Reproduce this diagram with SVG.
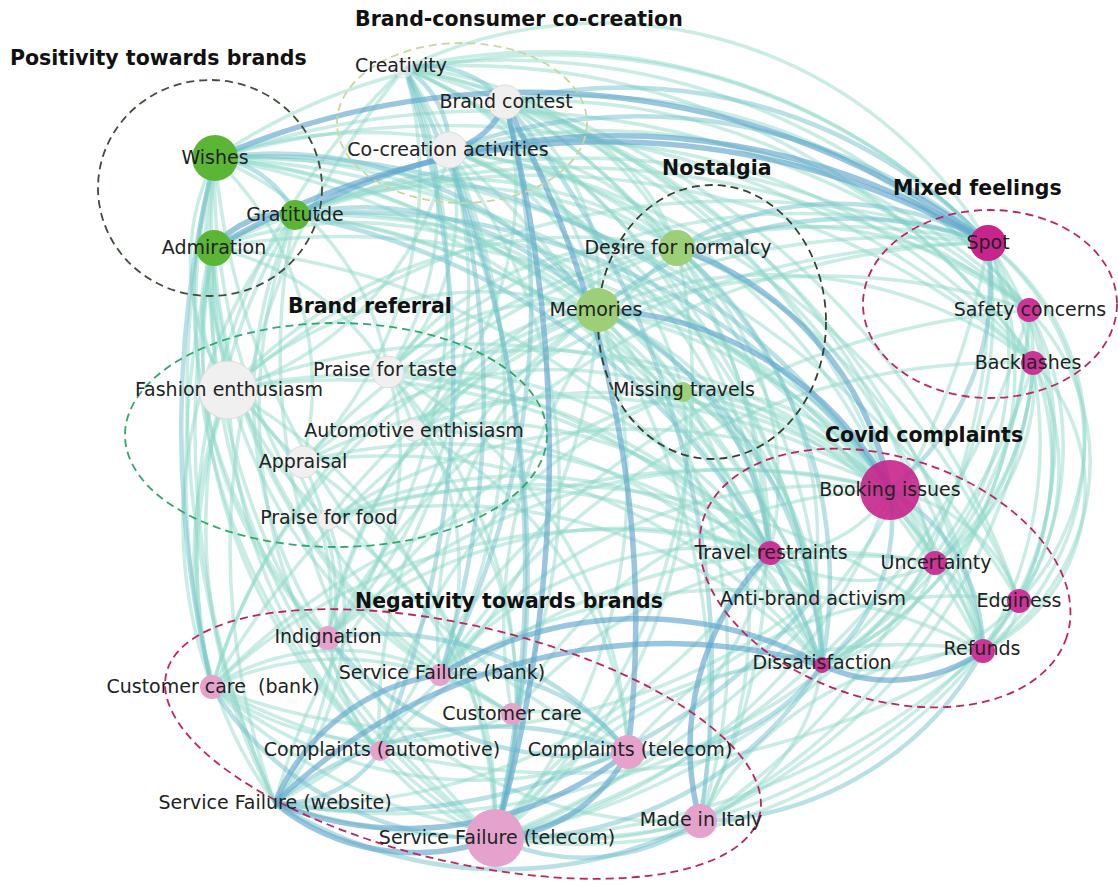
<svg xmlns="http://www.w3.org/2000/svg" width="1118" height="886" viewBox="0 0 1118 886">
<style>
.e{fill:none;stroke:#8fd8c9;stroke-width:3.5;stroke-opacity:.48}
.m{fill:none;stroke:#74c2cc;stroke-width:4.5;stroke-opacity:.5}
.t{fill:none;stroke:#63a7cc;stroke-width:5.5;stroke-opacity:.65}
.cl{fill:none;stroke-width:1.8;stroke-dasharray:8 5}
.lbl{font-family:"DejaVu Sans",sans-serif;font-size:19px;fill:#222;text-anchor:middle}
.ttl{font-family:"DejaVu Sans",sans-serif;font-size:20.5px;font-weight:bold;fill:#111}
.green{fill:#5cb636}
.lgreen{fill:#9ccf77}
.gray{fill:#f0f0f0;stroke:#dcdcdc;stroke-width:1}
.mag{fill:#c8248c}
.mag2{fill:#cc3597}
.pink{fill:#e4a2cd}
</style>
<rect width="1118" height="886" fill="#fff"/>
<g id="connectors">
<!-- light links -->
<path class="e" d="M215 158A828 828 0 0 1 1029 310"/>
<path class="e" d="M215 158A844 844 0 0 1 1034 363"/>
<path class="e" d="M405 68A609 609 0 0 1 988 243"/>
<path class="e" d="M405 68A450 450 0 0 1 988 243"/>
<path class="e" d="M405 68A669 669 0 0 1 1029 310"/>
<path class="e" d="M405 68A695 695 0 0 1 1034 363"/>
<path class="e" d="M449 150A557 557 0 0 1 890 490"/>
<path class="e" d="M505 102A590 590 0 0 1 1034 363"/>
<path class="e" d="M215 158A471 471 0 0 1 677 248"/>
<path class="e" d="M405 68A326 326 0 0 1 677 248"/>
<path class="e" d="M505 102A226 226 0 0 1 677 248"/>
<path class="e" d="M405 68A813 813 0 0 1 1019 601"/>
<path class="e" d="M405 68A821 821 0 0 1 983 651"/>
<path class="e" d="M215 158A918 918 0 0 1 1019 601"/>
<path class="e" d="M215 158A913 913 0 0 1 983 651"/>
<path class="e" d="M215 158A600 600 0 0 1 988 243"/>
<path class="e" d="M505 102A630 630 0 0 1 935 563"/>
<path class="e" d="M449 150A727 727 0 0 1 1019 601"/>
<path class="e" d="M449 150A602 602 0 0 1 1029 310"/>
<path class="e" d="M449 150A623 623 0 0 1 1034 363"/>
<path class="e" d="M505 102A564 564 0 0 1 1029 310"/>
<path class="e" d="M229 390A773 773 0 0 1 988 243"/>
<path class="e" d="M388 372A614 614 0 0 1 988 243"/>
<path class="e" d="M295 215A740 740 0 0 1 1029 310"/>
<path class="e" d="M677 248A357 357 0 0 1 1029 310"/>
<path class="e" d="M598 310A439 439 0 0 1 1034 363"/>
<path class="e" d="M214 248A817 817 0 0 1 1029 310"/>
<path class="e" d="M295 215A754 754 0 0 1 1034 363"/>
<path class="e" d="M405 68A643 643 0 0 1 890 490"/>
<path class="e" d="M449 150A248 248 0 0 1 677 248"/>
<path class="e" d="M214 248A389 389 0 0 1 598 310"/>
<path class="e" d="M295 215A383 383 0 0 1 677 248"/>
<path class="e" d="M214 248A463 463 0 0 1 677 248"/>
<path class="e" d="M405 68A310 310 0 0 1 598 310"/>
<path class="e" d="M505 102A228 228 0 0 1 598 310"/>
<path class="e" d="M449 150A219 219 0 0 1 598 310"/>
<path class="e" d="M215 158A523 523 0 0 1 683 392"/>
<path class="e" d="M449 150A337 337 0 0 1 683 392"/>
<path class="e" d="M295 215A426 426 0 0 1 683 392"/>
<path class="e" d="M229 390A470 470 0 0 1 677 248"/>
<path class="e" d="M388 372A314 314 0 0 1 677 248"/>
<path class="e" d="M303 462A719 719 0 0 1 988 243"/>
<path class="e" d="M414 430A627 627 0 0 1 1029 310"/>
<path class="e" d="M328 520A716 716 0 0 1 988 243"/>
<path class="e" d="M328 638A769 769 0 0 1 988 243"/>
<path class="e" d="M212 687A894 894 0 0 1 988 243"/>
<path class="e" d="M440 675A671 671 0 0 1 1034 363"/>
<path class="e" d="M380 751A785 785 0 0 1 1029 310"/>
<path class="e" d="M988 243A408 408 0 0 1 983 651"/>
<path class="e" d="M988 243A260 260 0 0 1 983 651"/>
<path class="e" d="M988 243A359 359 0 0 1 1019 601"/>
<path class="e" d="M988 243A240 240 0 0 1 1019 601"/>
<path class="e" d="M988 243A324 324 0 0 1 935 563"/>
<path class="e" d="M1029 310A344 344 0 0 1 983 651"/>
<path class="e" d="M1029 310A220 220 0 0 1 983 651"/>
<path class="e" d="M1029 310A291 291 0 0 1 1019 601"/>
<path class="e" d="M1034 363A238 238 0 0 1 1019 601"/>
<path class="e" d="M1034 363A292 292 0 0 1 983 651"/>
<path class="e" d="M1034 363A180 180 0 0 1 983 651"/>
<path class="e" d="M988 243A453 453 0 0 1 822 665"/>
<path class="e" d="M988 243A320 320 0 0 1 822 665"/>
<path class="e" d="M1029 310A411 411 0 0 1 822 665"/>
<path class="e" d="M1034 363A369 369 0 0 1 822 665"/>
<path class="e" d="M1034 363A567 567 0 0 1 700 821"/>
<path class="e" d="M1029 310A608 608 0 0 1 700 821"/>
<path class="e" d="M988 243A646 646 0 0 1 700 821"/>
<path class="e" d="M988 243A773 773 0 0 1 495 838"/>
<path class="e" d="M677 248A506 506 0 0 1 983 651"/>
<path class="e" d="M683 392A396 396 0 0 1 983 651"/>
<path class="e" d="M683 392A305 305 0 0 1 935 563"/>
<path class="e" d="M890 490A170 170 0 0 1 1019 601"/>
<path class="e" d="M890 490A86 86 0 0 1 935 563"/>
<path class="e" d="M935 563A100 100 0 0 1 983 651"/>
<path class="e" d="M1019 601A62 62 0 0 1 983 651"/>
<path class="e" d="M1029 310A270 270 0 0 1 935 563"/>
<path class="e" d="M1034 363A223 223 0 0 1 935 563"/>
<path class="e" d="M1029 310A751 751 0 0 1 495 838"/>
<path class="e" d="M1034 363A718 718 0 0 1 495 838"/>
<path class="e" d="M983 651A523 523 0 0 1 495 838"/>
<path class="e" d="M983 651A724 724 0 0 1 275 803"/>
<path class="e" d="M700 821A506 506 0 0 1 212 687"/>
<path class="e" d="M628 752A421 421 0 0 1 212 687"/>
<path class="e" d="M983 651A772 772 0 0 1 212 687"/>
<path class="e" d="M1019 601A575 575 0 0 1 495 838"/>
<path class="e" d="M935 563A702 702 0 0 1 275 803"/>
<path class="e" d="M890 490A526 526 0 0 1 495 838"/>
<path class="e" d="M770 553A396 396 0 0 1 495 838"/>
<path class="e" d="M700 821A415 415 0 0 1 328 638"/>
<path class="e" d="M495 838A261 261 0 0 1 328 638"/>
<path class="e" d="M512 714A301 301 0 0 1 212 687"/>
<path class="e" d="M212 687A228 228 0 0 1 440 675"/>
<path class="e" d="M212 687A301 301 0 0 1 512 714"/>
<path class="e" d="M770 553A555 555 0 0 1 275 803"/>
<path class="e" d="M813 598A608 608 0 0 1 212 687"/>
<path class="e" d="M935 563A165 165 0 0 1 770 553"/>
<path class="e" d="M890 490A136 136 0 0 1 770 553"/>
<path class="e" d="M770 553A123 123 0 0 1 822 665"/>
<path class="e" d="M935 563A152 152 0 0 1 822 665"/>
<path class="e" d="M1019 601A207 207 0 0 1 822 665"/>
<path class="e" d="M822 665A198 198 0 0 1 700 821"/>
<path class="e" d="M512 714A122 122 0 0 1 628 752"/>
<path class="e" d="M440 675A543 543 0 0 1 983 651"/>
<path class="e" d="M628 752A419 419 0 0 1 1019 601"/>
<path class="e" d="M700 821A330 330 0 0 1 983 651"/>
<path class="e" d="M495 838A523 523 0 0 1 983 651"/>
<path class="e" d="M495 838A370 370 0 0 1 822 665"/>
<path class="e" d="M212 687A900 900 0 0 1 214 248"/>
<path class="e" d="M275 803A1000 1000 0 0 1 215 158"/>
<path class="e" d="M275 803A900 900 0 0 1 214 248"/>
<path class="e" d="M212 687A500 500 0 0 1 229 390"/>
<path class="e" d="M328 638A493 493 0 0 1 215 158"/>
<path class="e" d="M275 803A415 415 0 0 1 229 390"/>
<path class="e" d="M495 838A735 735 0 0 1 215 158"/>
<path class="e" d="M495 838A521 521 0 0 1 229 390"/>
<path class="e" d="M380 751A530 530 0 0 1 214 248"/>
<path class="e" d="M440 675A564 564 0 0 1 215 158"/>
<path class="e" d="M212 687A648 648 0 0 1 405 68"/>
<path class="e" d="M275 803A746 746 0 0 1 405 68"/>
<path class="e" d="M328 520A379 379 0 0 1 215 158"/>
<path class="e" d="M303 462A232 232 0 0 1 214 248"/>
<path class="e" d="M229 390A232 232 0 0 1 215 158"/>
<path class="e" d="M229 390A143 143 0 0 1 214 248"/>
<path class="e" d="M328 638A406 406 0 0 1 214 248"/>
<path class="e" d="M328 638A424 424 0 0 1 295 215"/>
<path class="e" d="M440 675A483 483 0 0 1 214 248"/>
<path class="e" d="M512 714A553 553 0 0 1 214 248"/>
<path class="e" d="M380 751A543 543 0 0 1 295 215"/>
<path class="e" d="M512 714A630 630 0 0 1 215 158"/>
<path class="e" d="M628 752A723 723 0 0 1 215 158"/>
<path class="e" d="M380 751A615 615 0 0 1 215 158"/>
<path class="e" d="M495 838A653 653 0 0 1 214 248"/>
<path class="e" d="M495 838A654 654 0 0 1 295 215"/>
<path class="e" d="M275 803A588 588 0 0 1 295 215"/>
<path class="e" d="M212 687A479 479 0 0 1 295 215"/>
<path class="e" d="M388 372A478 478 0 0 1 495 838"/>
<path class="e" d="M414 430A416 416 0 0 1 495 838"/>
<path class="e" d="M303 462A422 422 0 0 1 495 838"/>
<path class="e" d="M328 520A359 359 0 0 1 495 838"/>
<path class="e" d="M229 390A521 521 0 0 1 495 838"/>
<path class="e" d="M388 372A449 449 0 0 1 628 752"/>
<path class="e" d="M414 430A387 387 0 0 1 628 752"/>
<path class="e" d="M598 310A538 538 0 0 1 495 838"/>
<path class="e" d="M598 310A589 589 0 0 1 275 803"/>
<path class="e" d="M677 248A617 617 0 0 1 495 838"/>
<path class="e" d="M683 392A484 484 0 0 1 495 838"/>
<path class="e" d="M683 392A183 183 0 0 1 770 553"/>
<path class="e" d="M405 68A304 304 0 0 1 388 372"/>
<path class="e" d="M449 150A230 230 0 0 1 388 372"/>
<path class="e" d="M505 102A340 340 0 0 1 414 430"/>
<path class="e" d="M405 68A407 407 0 0 1 303 462"/>
<path class="e" d="M449 150A326 326 0 0 1 229 390"/>
<path class="e" d="M215 158A275 275 0 0 1 388 372"/>
<path class="e" d="M214 248A270 270 0 0 1 414 430"/>
<path class="e" d="M215 158A316 316 0 0 1 303 462"/>
<path class="e" d="M215 158A681 681 0 0 1 770 553"/>
<path class="e" d="M215 158A791 791 0 0 1 822 665"/>
<path class="e" d="M215 158A742 742 0 0 1 813 598"/>
<path class="e" d="M214 248A737 737 0 0 1 822 665"/>
<path class="e" d="M295 215A728 728 0 0 1 935 563"/>
<path class="e" d="M295 215A583 583 0 0 1 770 553"/>
<path class="e" d="M295 215A644 644 0 0 1 813 598"/>
<path class="e" d="M449 150A515 515 0 0 1 770 553"/>
<path class="e" d="M449 150A577 577 0 0 1 813 598"/>
<path class="e" d="M405 68A607 607 0 0 1 770 553"/>
<path class="e" d="M405 68A728 728 0 0 1 822 665"/>
<path class="e" d="M505 102A523 523 0 0 1 770 553"/>
<path class="e" d="M505 102A646 646 0 0 1 822 665"/>
<path class="e" d="M505 102A728 728 0 0 1 983 651"/>
<path class="e" d="M388 372A516 516 0 0 1 890 490"/>
<path class="e" d="M229 390A669 669 0 0 1 890 490"/>
<path class="e" d="M328 520A563 563 0 0 1 890 490"/>
<path class="e" d="M414 430A480 480 0 0 1 890 490"/>
<path class="e" d="M303 462A588 588 0 0 1 890 490"/>
<path class="e" d="M414 430A377 377 0 0 1 770 553"/>
<path class="e" d="M388 372A423 423 0 0 1 770 553"/>
<path class="e" d="M303 462A557 557 0 0 1 822 665"/>
<path class="e" d="M414 430A471 471 0 0 1 822 665"/>
<path class="e" d="M328 520A668 668 0 0 1 983 651"/>
<path class="e" d="M229 390A565 565 0 0 1 770 553"/>
<path class="e" d="M388 372A524 524 0 0 1 822 665"/>
<path class="e" d="M214 248A718 718 0 0 1 890 490"/>
<path class="e" d="M229 390A620 620 0 0 1 813 598"/>
<path class="e" d="M303 462A528 528 0 0 1 813 598"/>
<path class="e" d="M328 520A443 443 0 0 1 770 553"/>
<path class="e" d="M328 520A515 515 0 0 1 822 665"/>
<path class="e" d="M328 520A491 491 0 0 1 813 598"/>
<path class="e" d="M449 150A716 716 0 0 1 700 821"/>
<path class="e" d="M405 68A608 608 0 0 1 440 675"/>
<path class="e" d="M405 68A575 575 0 0 1 328 638"/>
<path class="e" d="M449 150A503 503 0 0 1 328 638"/>
<path class="e" d="M449 150A568 568 0 0 1 512 714"/>
<path class="e" d="M388 372A307 307 0 0 1 440 675"/>
<path class="e" d="M388 372A273 273 0 0 1 328 638"/>
<path class="e" d="M229 390A267 267 0 0 1 328 638"/>
<path class="e" d="M303 462A342 342 0 0 1 275 803"/>
<path class="e" d="M328 520A288 288 0 0 1 275 803"/>
<path class="e" d="M328 638A425 425 0 0 1 598 310"/>
<path class="e" d="M440 675A398 398 0 0 1 598 310"/>
<path class="e" d="M512 714A494 494 0 0 1 677 248"/>
<path class="e" d="M380 751A492 492 0 0 1 598 310"/>
<path class="e" d="M212 687A540 540 0 0 1 598 310"/>
<path class="e" d="M212 687A640 640 0 0 1 677 248"/>
<path class="e" d="M328 638A523 523 0 0 1 677 248"/>
<path class="e" d="M275 803A579 579 0 0 1 683 392"/>
<path class="e" d="M380 751A470 470 0 0 1 683 392"/>
<path class="e" d="M328 638A450 450 0 0 1 770 553"/>
<path class="e" d="M212 687A574 574 0 0 1 770 553"/>
<path class="e" d="M440 675A352 352 0 0 1 770 553"/>
<path class="e" d="M440 675A487 487 0 0 1 890 490"/>
<path class="e" d="M512 714A439 439 0 0 1 890 490"/>
<path class="e" d="M328 638A581 581 0 0 1 890 490"/>
<path class="e" d="M212 687A706 706 0 0 1 890 490"/>
<path class="e" d="M380 751A586 586 0 0 1 935 563"/>
<path class="e" d="M512 714A449 449 0 0 1 935 563"/>
<path class="e" d="M598 310A521 521 0 0 1 700 821"/>
<path class="e" d="M677 248A573 573 0 0 1 700 821"/>
<path class="e" d="M683 392A431 431 0 0 1 700 821"/>
<path class="e" d="M598 310A514 514 0 0 1 983 651"/>
<path class="e" d="M388 372A219 219 0 0 1 598 310"/>
<path class="e" d="M414 430A220 220 0 0 1 598 310"/>
<path class="e" d="M229 390A378 378 0 0 1 598 310"/>
<path class="e" d="M303 462A386 386 0 0 1 683 392"/>
<path class="e" d="M683 392A229 229 0 0 1 890 490"/>
<path class="e" d="M598 310A421 421 0 0 1 935 563"/>
<path class="e" d="M677 248A319 319 0 0 1 770 553"/>
<path class="e" d="M683 392A308 308 0 0 1 822 665"/>
<path class="e" d="M598 310A359 359 0 0 1 813 598"/>
<path class="e" d="M677 248A375 375 0 0 1 813 598"/>
<path class="e" d="M683 392A244 244 0 0 1 813 598"/>
<!-- medium links -->
<path class="m" d="M449 150A547 547 0 0 1 988 243"/>
<path class="m" d="M505 102A503 503 0 0 1 988 243"/>
<path class="m" d="M295 215A655 655 0 0 1 890 490"/>
<path class="m" d="M215 158A412 412 0 0 1 598 310"/>
<path class="m" d="M598 310A396 396 0 0 1 988 243"/>
<path class="m" d="M677 248A311 311 0 0 1 988 243"/>
<path class="m" d="M215 158A752 752 0 0 1 890 490"/>
<path class="m" d="M295 215A318 318 0 0 1 598 310"/>
<path class="m" d="M988 243A266 266 0 0 1 890 490"/>
<path class="m" d="M598 310A420 420 0 0 1 822 665"/>
<path class="m" d="M890 490A186 186 0 0 1 983 651"/>
<path class="m" d="M822 665A370 370 0 0 1 495 838"/>
<path class="m" d="M700 821A425 425 0 0 1 275 803"/>
<path class="m" d="M495 838A321 321 0 0 1 212 687"/>
<path class="m" d="M628 752A321 321 0 0 1 328 638"/>
<path class="m" d="M380 751A117 117 0 0 1 275 803"/>
<path class="m" d="M275 803A357 357 0 0 1 628 752"/>
<path class="m" d="M328 638A321 321 0 0 1 628 752"/>
<path class="m" d="M813 598A576 576 0 0 1 275 803"/>
<path class="m" d="M890 490A188 188 0 0 1 822 665"/>
<path class="m" d="M700 821A206 206 0 0 1 495 838"/>
<path class="m" d="M983 651A330 330 0 0 1 700 821"/>
<path class="m" d="M822 665A213 213 0 0 1 628 752"/>
<path class="m" d="M440 675A203 203 0 0 1 628 752"/>
<path class="m" d="M212 687A1100 1100 0 0 1 215 158"/>
<path class="m" d="M215 158A98 98 0 0 1 295 215"/>
<path class="m" d="M405 68A93 93 0 0 1 449 150"/>
<path class="m" d="M405 68A106 106 0 0 1 505 102"/>
<path class="m" d="M449 150A900 900 0 0 1 440 675"/>
<path class="m" d="M405 68A1000 1000 0 0 1 380 751"/>
<path class="m" d="M405 68A1100 1100 0 0 1 495 838"/>
<path class="m" d="M449 150A1200 1200 0 0 1 495 838"/>
<path class="m" d="M598 310A298 298 0 0 1 770 553"/>
<path class="m" d="M677 248A441 441 0 0 1 822 665"/>
<path class="m" d="M295 215A693 693 0 0 1 822 665"/>
<path class="m" d="M505 102A900 900 0 0 1 700 821"/>
<path class="m" d="M505 102A800 800 0 0 1 440 675"/>
<!-- strong links -->
<path class="t" d="M215 158A778 778 0 0 1 988 243"/>
<path class="t" d="M295 215A694 694 0 0 1 988 243"/>
<path class="t" d="M214 248A774 774 0 0 1 988 243"/>
<path class="t" d="M677 248A322 322 0 0 1 890 490"/>
<path class="t" d="M598 310A343 343 0 0 1 890 490"/>
<path class="t" d="M440 675A382 382 0 0 1 822 665"/>
<path class="t" d="M628 752A357 357 0 0 1 275 803"/>
<path class="t" d="M495 838A223 223 0 0 1 275 803"/>
<path class="t" d="M275 803A564 564 0 0 1 822 665"/>
<path class="t" d="M275 803A209 209 0 0 1 440 675"/>
<path class="t" d="M628 752A158 158 0 0 1 495 838"/>
<path class="t" d="M700 821A277 277 0 0 1 770 553"/>
<path class="t" d="M983 651A162 162 0 0 1 822 665"/>
<path class="t" d="M214 248A87 87 0 0 1 295 215"/>
<path class="t" d="M505 102A74 74 0 0 1 449 150"/>
<path class="t" d="M505 102A1400 1400 0 0 1 495 838"/>
<path class="t" d="M505 102A1100 1100 0 0 1 628 752"/>
</g>
<g id="clusters">
<ellipse class="cl" cx="210" cy="188" rx="112" ry="108" stroke="#3f4d3c"/>
<ellipse class="cl" cx="462" cy="123" rx="125" ry="80" stroke="#c9d6a2"/>
<ellipse class="cl" cx="712" cy="322" rx="114" ry="137" stroke="#33422e"/>
<ellipse class="cl" cx="990" cy="304" rx="127" ry="94" stroke="#c0245f"/>
<ellipse class="cl" cx="336" cy="435" rx="211" ry="112" stroke="#2fa86a"/>
<ellipse class="cl" cx="0" cy="0" rx="191" ry="121" stroke="#c0245f" transform="translate(885 578) rotate(18)"/>
<ellipse class="cl" cx="0" cy="0" rx="305" ry="118" stroke="#c0245f" transform="translate(463 744) rotate(13.4)"/>
</g>
<g id="node-wishes"><circle class="green" cx="215" cy="158" r="23"/><text class="lbl" x="215" y="164">Wishes</text></g>
<g id="node-gratitude"><circle class="green" cx="295" cy="215" r="15"/><text class="lbl" x="295" y="221">Gratitutde</text></g>
<g id="node-admiration"><circle class="green" cx="214" cy="248" r="18"/><text class="lbl" x="214" y="254">Admiration</text></g>
<g id="node-creativity"><circle class="gray" cx="403" cy="68" r="10" opacity=".7"/><text class="lbl" x="401" y="72">Creativity</text></g>
<g id="node-brand-contest"><circle class="gray" cx="505" cy="102" r="17"/><text class="lbl" x="506" y="108">Brand contest</text></g>
<g id="node-co-creation"><circle class="gray" cx="449" cy="150" r="18"/><text class="lbl" x="448" y="156">Co-creation activities</text></g>
<g id="node-desire"><circle class="lgreen" cx="677" cy="248" r="18"/><text class="lbl" x="678" y="254">Desire for normalcy</text></g>
<g id="node-memories"><circle class="lgreen" cx="598" cy="310" r="22"/><text class="lbl" x="596" y="316">Memories</text></g>
<g id="node-missing-travels"><circle class="lgreen" cx="683" cy="392" r="10"/><text class="lbl" x="684" y="396">Missing travels</text></g>
<g id="node-spot"><circle class="mag" cx="988" cy="243" r="18"/><text class="lbl" x="988" y="249">Spot</text></g>
<g id="node-safety"><circle class="mag2" cx="1029" cy="310" r="12"/><text class="lbl" x="1030" y="316">Safety concerns</text></g>
<g id="node-backlashes"><circle class="mag2" cx="1033" cy="363" r="12"/><text class="lbl" x="1028" y="369">Backlashes</text></g>
<g id="node-fashion"><circle class="gray" cx="228" cy="390" r="29"/><text class="lbl" x="229" y="396">Fashion enthusiasm</text></g>
<g id="node-praise-taste"><circle class="gray" cx="388" cy="372" r="16"/><text class="lbl" x="385" y="376">Praise for taste</text></g>
<g id="node-automotive"><circle class="gray" cx="414" cy="430" r="11"/><text class="lbl" x="414" y="437">Automotive enthisiasm</text></g>
<g id="node-appraisal"><circle class="gray" cx="303" cy="462" r="16"/><text class="lbl" x="303" y="468">Appraisal</text></g>
<g id="node-praise-food"><circle class="gray" cx="328" cy="520" r="10"/><text class="lbl" x="329" y="524">Praise for food</text></g>
<g id="node-booking"><circle class="mag" cx="890" cy="490" r="30" fill-opacity=".9"/><text class="lbl" x="890" y="496">Booking issues</text></g>
<g id="node-travel-restraints"><circle class="mag2" cx="770" cy="553" r="12"/><text class="lbl" x="771" y="559">Travel restraints</text></g>
<g id="node-uncertainty"><circle class="mag2" cx="935" cy="563" r="12"/><text class="lbl" x="936" y="569">Uncertainty</text></g>
<g id="node-edginess"><circle class="mag2" cx="1019" cy="601" r="12"/><text class="lbl" x="1019" y="607">Edginess</text></g>
<g id="node-refunds"><circle class="mag2" cx="983" cy="651" r="12"/><text class="lbl" x="982" y="655">Refunds</text></g>
<g id="node-anti-brand"><circle class="pink" cx="816" cy="600" r="4" opacity=".7"/><text class="lbl" x="813" y="605">Anti-brand activism</text></g>
<g id="node-dissatisfaction"><circle class="mag2" cx="822" cy="665" r="8"/><text class="lbl" x="822" y="669">Dissatisfaction</text></g>
<g id="node-indignation"><circle class="pink" cx="328" cy="638" r="12"/><text class="lbl" x="328" y="643">Indignation</text></g>
<g id="node-customer-care-bank"><circle class="pink" cx="212" cy="687" r="12"/><text class="lbl" x="213" y="693" xml:space="preserve" style="white-space:pre">Customer care  (bank)</text></g>
<g id="node-sf-bank"><circle class="pink" cx="440" cy="675" r="11"/><text class="lbl" x="442" y="679">Service Failure (bank)</text></g>
<g id="node-customer-care"><circle class="pink" cx="512" cy="714" r="11"/><text class="lbl" x="512" y="720">Customer care</text></g>
<g id="node-complaints-auto"><circle class="pink" cx="380" cy="751" r="10"/><text class="lbl" x="382" y="756">Complaints (automotive)</text></g>
<g id="node-complaints-telecom"><circle class="pink" cx="628" cy="752" r="17"/><text class="lbl" x="630" y="756">Complaints (telecom)</text></g>
<g id="node-sf-website"><text class="lbl" x="275" y="809">Service Failure (website)</text></g>
<g id="node-sf-telecom"><circle class="pink" cx="495" cy="838" r="29"/><text class="lbl" x="497" y="844">Service Failure (telecom)</text></g>
<g id="node-made-in-italy"><circle class="pink" cx="700" cy="821" r="17"/><text class="lbl" x="701" y="826">Made in Italy</text></g>
<g id="titles">
<text class="ttl" x="10" y="65">Positivity towards brands</text>
<text class="ttl" x="355" y="26">Brand-consumer co-creation</text>
<text class="ttl" x="662" y="175">Nostalgia</text>
<text class="ttl" x="893" y="195">Mixed feelings</text>
<text class="ttl" x="288" y="313">Brand referral</text>
<text class="ttl" x="825" y="442">Covid complaints</text>
<text class="ttl" x="355" y="608">Negativity towards brands</text>
</g>
</svg>
